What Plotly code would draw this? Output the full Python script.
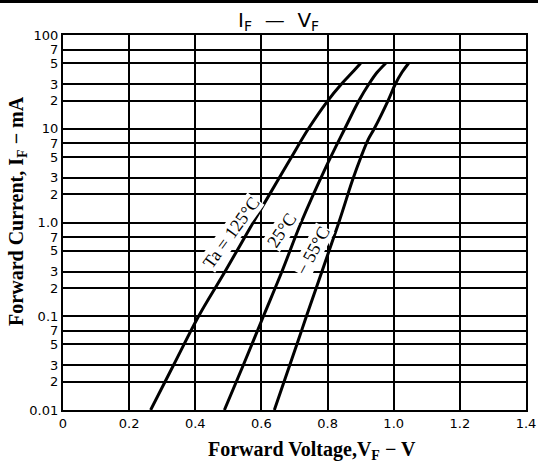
import plotly.graph_objects as go

# ---- data ----
v_125 = [0.265, 0.334, 0.41, 0.49, 0.575, 0.654, 0.691, 0.742, 0.801, 0.842, 0.875, 0.900]
i_125 = [0.01, 0.03, 0.1, 0.3, 1.0, 3.0, 5.0, 10.0, 20.0, 30.0, 40.0, 50.0]

v_25 = [0.488, 0.545, 0.606, 0.662, 0.72, 0.795, 0.852, 0.895, 0.925, 0.95, 0.976]
i_25 = [0.01, 0.03, 0.1, 0.3, 1.0, 3.9, 10.0, 20.0, 30.0, 40.0, 50.0]

v_m55 = [0.639, 0.712, 0.736, 0.834, 0.875, 0.901, 0.923, 0.941, 0.983, 1.005, 1.025, 1.045]
i_m55 = [0.01, 0.056, 0.1, 1.0, 2.8, 5.0, 7.7, 10.0, 20.0, 30.0, 40.0, 50.0]

x_ticks = [0, 0.2, 0.4, 0.6, 0.8, 1.0, 1.2, 1.4]
x_tick_text = ["0", "0.2", "0.4", "0.6", "0.8", "1.0", "1.2", "1.4"]

y_ticks = [0.01, 0.02, 0.03, 0.05, 0.07,
           0.1, 0.2, 0.3, 0.5, 0.7,
           1.0, 2, 3, 5, 7,
           10, 20, 30, 50, 70, 100]
y_tick_text = ["0.01", "2", "3", "5", "7",
               "0.1", "2", "3", "5", "7",
               "1.0", "2", "3", "5", "7",
               "10", "2", "3", "5", "7", "100"]

curve_labels = ["Ta = 125°C", "25°C", "− 55°C"]

# ---- figure ----
fig = go.Figure()
for vv, ii in [(v_125, i_125), (v_25, i_25), (v_m55, i_m55)]:
    fig.add_trace(go.Scatter(x=vv, y=ii, mode="lines",
                             line=dict(color="black", width=3, shape="spline", smoothing=1.0),
                             showlegend=False, hoverinfo="skip"))

tick_font = dict(family="DejaVu Sans, sans-serif", size=13, color="black")

fig.update_xaxes(range=[0, 1.4], tickvals=x_ticks, ticktext=x_tick_text,
                 showgrid=True, gridcolor="black", gridwidth=1.6,
                 showline=True, linecolor="black", linewidth=2.2, mirror=True,
                 ticks="", zeroline=False, tickfont=tick_font, automargin=False)
fig.update_yaxes(type="log", range=[-2, 2], tickvals=y_ticks, ticktext=y_tick_text,
                 showgrid=True, gridcolor="black", gridwidth=1.6,
                 showline=True, linecolor="black", linewidth=2.2, mirror=True,
                 ticks="", zeroline=False, tickfont=tick_font, automargin=False)

serif = "Liberation Serif, DejaVu Serif, serif"

# curve labels (x in volts, y in log10(mA))
lab_pos = [(0.508, -0.112, -54), (0.662, -0.08, -56), (0.755, -0.304, -62)]
for txt, (xv, yv, ang) in zip(curve_labels, lab_pos):
    fig.add_annotation(x=xv, y=yv, xref="x", yref="y", text=txt, showarrow=False,
                       textangle=ang, font=dict(family=serif, size=18, color="black"),
                       bgcolor="white", borderpad=0)

# title
fig.add_annotation(x=0.465, y=1.0, xref="paper", yref="paper", yshift=14,
                   text="I<sub>F</sub>  —  V<sub>F</sub>", showarrow=False,
                   font=dict(family="DejaVu Sans, sans-serif", size=20, color="black"),
                   yanchor="middle")
# axis titles
fig.add_annotation(x=0.538, y=0, xref="paper", yref="paper", yshift=-40,
                   text="<b>Forward Voltage,V<sub>F</sub> − V</b>", showarrow=False,
                   font=dict(family=serif, size=20, color="black"), yanchor="middle")
fig.add_annotation(x=0, y=0.531, xref="paper", yref="paper", xshift=-45,
                   text="<b>Forward Current, I<sub>F</sub> − mA</b>", showarrow=False, textangle=-90,
                   font=dict(family=serif, size=20, color="black"), xanchor="center", yanchor="middle")

# top rule
fig.add_shape(type="rect", xref="paper", yref="paper",
              x0=-0.14, x1=1.03, y0=1.0853, y1=1.0933,
              line=dict(width=0), fillcolor="black", layer="above")

fig.update_layout(width=538, height=466,
                  margin=dict(l=63, r=12, t=35, b=56, autoexpand=False),
                  paper_bgcolor="white", plot_bgcolor="white",
                  font=dict(color="black"))

fig.write_html("out.html", config={"displayModeBar": False},
               post_script="document.body.style.margin='0';document.body.style.overflow='hidden';")
